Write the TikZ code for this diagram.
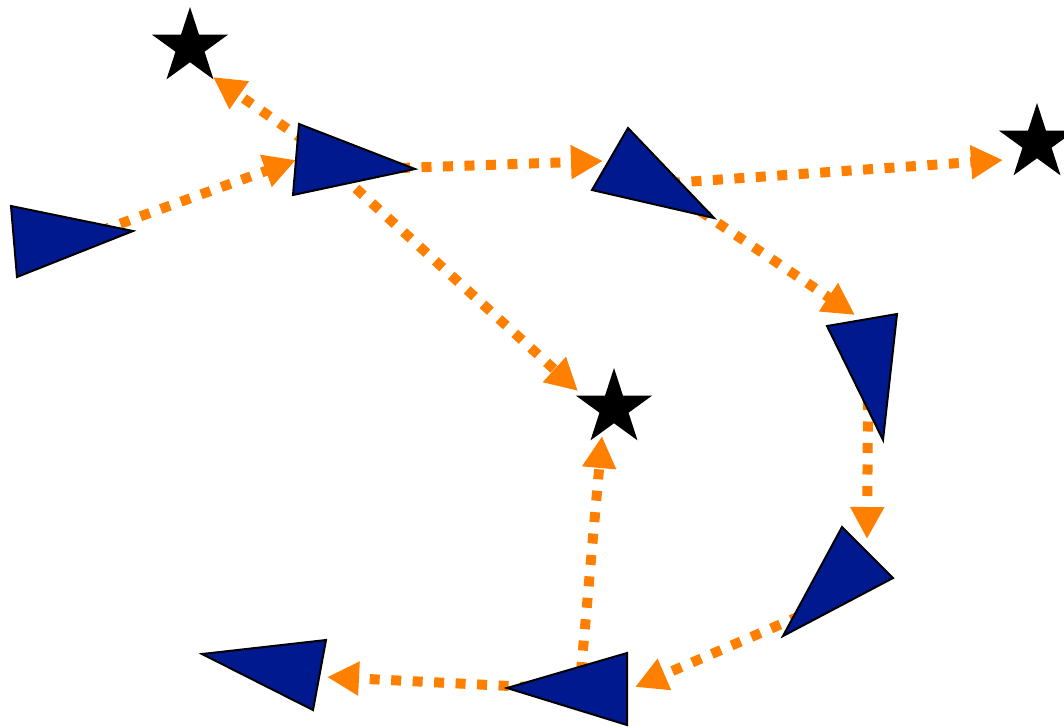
\documentclass[tikz,border=0pt]{standalone}
\usepackage{tikz}
\usetikzlibrary{arrows.meta,shapes.geometric}
\definecolor{trajorange}{RGB}{255,128,0}
\definecolor{posefill}{RGB}{0,25,143}
\tikzset{
  pose/.style={draw=black, line width=2pt, fill=posefill, line join=miter},
  goal/.style={star, star points=5, star point ratio=2.618, fill=black,
    minimum size=80pt, inner sep=0pt},
  traj/.style={draw=trajorange, line width=10pt, dash pattern=on 10pt off 11.5pt,
    -{Triangle[length=32pt,width=32pt]}}
}

\begin{document}
\begin{tikzpicture}[x=1pt,y=-1pt]
  \useasboundingbox (0,0) rectangle (1064,726);

  % tails, hidden under the poses
  \coordinate (p1)  at (100,231);
  \coordinate (p2a) at (305,141);
  \coordinate (p2b) at (400,168);
  \coordinate (p2c) at (340,174);
  \coordinate (p3a) at (670,183);
  \coordinate (p3b) at (700,211);
  \coordinate (p4)  at (868,400);
  \coordinate (p5)  at (800,616);
  \coordinate (p6a) at (581,672);
  \coordinate (p6b) at (530,687);
  % heads
  \coordinate (h2)   at (296,160);
  \coordinate (h3)   at (603,161);
  \coordinate (h4)   at (855,315);
  \coordinate (h5)   at (867,539);
  \coordinate (h6)   at (635,687);
  \coordinate (h7)   at (327,677);
  \coordinate (hg1)  at (213,77);
  \coordinate (hg2)  at (1003,160);
  \coordinate (hg3a) at (578,391);
  \coordinate (hg3b) at (602,436);

  \draw[traj] (p1) -- (h2);
  \draw[traj] (p2a) -- (hg1);
  \draw[traj] (p2b) -- (h3);
  \draw[traj] (p2c) -- (hg3a);
  \draw[traj] (p3a) -- (hg2);
  \draw[traj] (p3b) -- (h4);
  \draw[traj] (p4) -- (h5);
  \draw[traj] (p5) -- (h6);
  \draw[traj] (p6a) -- (hg3b);
  \draw[traj] (p6b) -- (h7);

  % poses
  \draw[pose] (11,206) -- (17,277) -- (133,231) -- cycle;
  \draw[pose] (299,124) -- (293,195) -- (415,169) -- cycle;
  \draw[pose] (628,128) -- (592,190) -- (714,218) -- cycle;
  \draw[pose] (827,326) -- (897,314) -- (883,440) -- cycle;
  \draw[pose] (842,527) -- (893,578) -- (783,636) -- cycle;
  \draw[pose] (627,653) -- (627,725) -- (507,688) -- cycle;
  \draw[pose] (202,654) -- (326,640) -- (313,710) -- cycle;

  % goals
  \node[goal] (g1) at (190,47) {};
  \node[goal] (g2) at (1037,143) {};
  \node[goal] (g3) at (614,408) {};
\end{tikzpicture}
\end{document}
